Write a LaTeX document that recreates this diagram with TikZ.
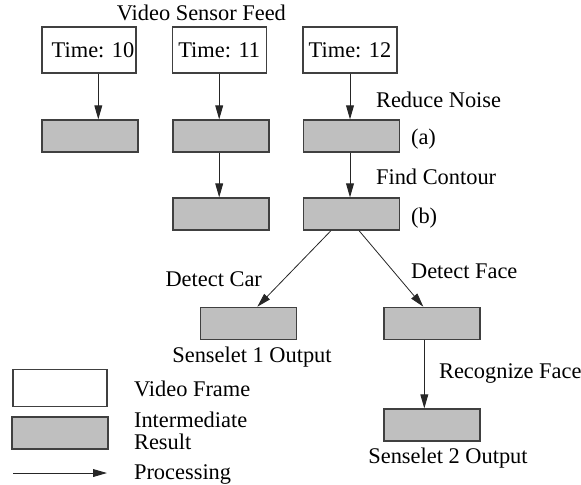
\documentclass[tikz,border=0pt]{standalone}
\usepackage{fontspec}
\setmainfont{Liberation Serif}
\usetikzlibrary{arrows.meta}

\begin{document}
\begin{tikzpicture}[x=0.5pt,y=-0.5pt,>={Triangle[length=7pt,width=3.9pt]},
    font=\fontsize{11.2}{12}\selectfont,
    frame/.style={draw=black!75,line width=0.6pt,fill=white,minimum width=47pt,minimum height=23pt,inner sep=0pt},
    result/.style={draw=black!75,line width=0.6pt,fill=black!25,minimum width=48pt,minimum height=16pt,inner sep=0pt},
    proc/.style={->,line width=0.5pt,black!85}]
  \useasboundingbox (0,0) rectangle (581,484);
  \node[anchor=east] (feed) at (293,13) {Video Sensor Feed};
  % video frames
  \node[frame] (t10) at (89,50) {\hspace{4pt}Time: 10};
  \node[frame] (t11) at (219.2,50) {Time: 11};
  \node[frame] (t12) at (350,50) {Time: 12};
  % intermediate results
  \node[result] (g10) at (90,136) {};
  \node[result] (g11) at (221,136) {};
  \node[result] (g12) at (351.3,136) {};
  \node[result] (h11) at (221,214) {};
  \node[result] (h12) at (351.3,214) {};
  \node[result] (car) at (248.7,323.3) {};
  \node[result] (face) at (432,323.3) {};
  \node[result] (rec) at (432,425) {};
  \draw[proc] ([xshift=4.65pt]t10.south) -- ([xshift=4.65pt]t10.south |- g10.north);
  \draw[proc] (t11.south) -- (t11.south |- g11.north);
  \draw[proc] (t12.south) -- (t12.south |- g12.north);
  \draw[proc] (t11 |- g11.south) -- (t11 |- h11.north);
  \draw[proc] (t12 |- g12.south) -- (t12 |- h12.north);
  \draw[proc,line width=0.4pt] ([xshift=-10.15pt]h12.south) -- ([xshift=4.3pt]car.north);
  \draw[proc,line width=0.4pt] ([xshift=3.85pt]h12.south) -- ([xshift=-4.35pt]face.north);
  \draw[proc] ([xshift=-3.85pt]face.south) -- ([xshift=-3.85pt]rec.north);
  % labels
  \node[anchor=west] (noise) at (369,100) {Reduce Noise};
  \node[anchor=west] (a) at (404,139) {(a)};
  \node[anchor=west] (contour) at (369,177) {Find Contour};
  \node[anchor=west] (b) at (404,218) {(b)};
  \node[anchor=east] (dcar) at (269,279) {Detect Car};
  \node[anchor=west] (dface) at (404,271) {Detect Face};
  \node (out1) at (252,357) {Senselet 1 Output};
  \node[anchor=west] (recog) at (432,373) {Recognize Face};
  \node (out2) at (448,458) {Senselet 2 Output};
  % legend
  \node[frame,minimum height=18.3pt] (lframe) at (60,388) {};
  \node[result] (lresult) at (60,433) {};
  \coordinate (la) at (13,473);
  \coordinate (lb) at (107,473);
  \draw[proc] (la) -- (lb);
  \node[anchor=west] (tframe) at (127,389) {Video Frame};
  \node[anchor=west,align=left,font=\fontsize{11.2}{11}\selectfont] (tresult) at (127,431) {Intermediate\\Result};
  \node[anchor=west] (tproc) at (127,474) {Processing};
\end{tikzpicture}
\end{document}
